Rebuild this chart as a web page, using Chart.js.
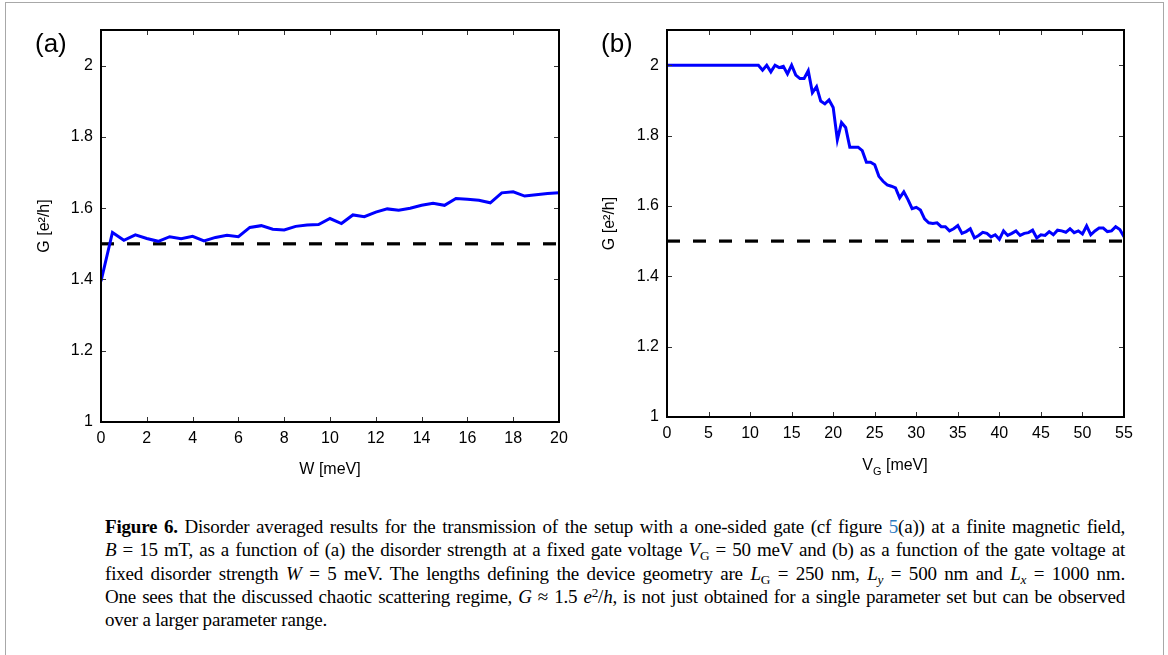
<!DOCTYPE html>
<html>
<head>
<meta charset="utf-8">
<script src="https://cdn.jsdelivr.net/npm/chart.js@4/dist/chart.umd.min.js"></script>
<style>
html,body{margin:0;padding:0;background:#fff;width:1168px;height:655px;overflow:hidden;}
#frame{position:absolute;left:5px;top:2px;width:1157px;height:720px;border:1px solid #a8a8a8;}
canvas{position:absolute;top:0;}
.lbl{position:absolute;font-family:"Liberation Sans",Arial,Helvetica,sans-serif;color:#000;white-space:nowrap;}
#cap{position:absolute;left:105px;top:515px;width:1020px;font-family:"Liberation Serif","Times New Roman",serif;font-size:19px;color:#000;}
#cap div{height:23.3px;line-height:23.3px;text-align:justify;text-align-last:justify;white-space:normal;letter-spacing:-0.2px;}
#cap div.last{text-align-last:left;}
#cap i{font-style:italic;}
#cap sub{font-size:70%;vertical-align:baseline;position:relative;top:0.3em;}
#cap sup{font-size:70%;vertical-align:baseline;position:relative;top:-0.45em;}
#cap .link{color:#2b7bbf;}
</style>
</head>
<body>
<div id="frame"></div>
<canvas id="ca" width="584" height="490" style="left:0px"></canvas>
<canvas id="cb" width="584" height="490" style="left:560px"></canvas>
<div class="lbl" style="left:35px;top:28px;font-size:26px;">(a)</div>
<div class="lbl" style="left:601px;top:28px;font-size:26px;">(b)</div>
<div class="lbl" style="left:795px;top:455px;width:200px;text-align:center;font-size:16px;line-height:20px;">V<span style="font-size:11px;position:relative;top:5px;">G</span> [meV]</div>
<div id="cap">
<div><b>Figure 6.</b> Disorder averaged results for the transmission of the setup with a one-sided gate (cf figure <span class="link">5</span>(a)) at a finite magnetic field,</div>
<div><i>B</i> = 15 mT, as a function of (a) the disorder strength at a fixed gate voltage <i>V</i><sub>G</sub> = 50 meV and (b) as a function of the gate voltage at</div>
<div>fixed disorder strength <i>W</i> = 5 meV. The lengths defining the device geometry are <i>L</i><sub>G</sub> = 250 nm, <i>L<sub>y</sub></i> = 500 nm and <i>L<sub>x</sub></i> = 1000 nm.</div>
<div>One sees that the discussed chaotic scattering regime, <i>G</i> ≈ 1.5 <i>e</i><sup>2</sup>/<i>h</i>, is not just obtained for a single parameter set but can be observed</div>
<div class="last">over a larger parameter range.</div>
</div>
<script>
// ---------- data ----------
const wA = [0,0.5,1,1.5,2,2.5,3,3.5,4,4.5,5,5.5,6,6.5,7,7.5,8,8.5,9,9.5,10,10.5,11,11.5,12,12.5,13,13.5,14,14.5,15,15.5,16,16.5,17,17.5,18,18.5,19,19.5,20];
const gA = [1.395,1.532,1.510,1.525,1.515,1.507,1.520,1.514,1.521,1.508,1.518,1.524,1.520,1.546,1.551,1.541,1.539,1.549,1.553,1.554,1.571,1.557,1.581,1.576,1.589,1.598,1.594,1.600,1.608,1.614,1.608,1.627,1.625,1.622,1.615,1.643,1.646,1.634,1.638,1.641,1.643];
const refAx = [0,20];
const refAy = [1.5,1.5];

const vB = [0,0.5,1,1.5,2,2.5,3,3.5,4,4.5,5,5.5,6,6.5,7,7.5,8,8.5,9,9.5,10,10.5,11,11.5,12,12.5,13,13.5,14,14.5,15,15.5,16,16.5,17,17.5,18,18.5,19,19.5,20,20.5,21,21.5,22,22.5,23,23.5,24,24.5,25,25.5,26,26.5,27,27.5,28,28.5,29,29.5,30,30.5,31,31.5,32,32.5,33,33.5,34,34.5,35,35.5,36,36.5,37,37.5,38,38.5,39,39.5,40,40.5,41,41.5,42,42.5,43,43.5,44,44.5,45,45.5,46,46.5,47,47.5,48,48.5,49,49.5,50,50.5,51,51.5,52,52.5,53,53.5,54,54.5,55];
const gB = [2,2,2,2,2,2,2,2,2,2,2,2,2,2,2,2,2,2,2,2,2,2,2,
  1.986,2.000,1.981,2.000,1.993,1.997,1.975,2.000,1.972,1.962,1.962,1.984,1.922,1.939,1.898,1.890,1.901,1.880,
  1.788,1.837,1.823,1.767,1.767,1.767,1.757,1.724,1.724,1.717,1.684,1.670,1.660,1.656,1.651,1.623,1.640,1.618,
  1.592,1.596,1.588,1.563,1.552,1.550,1.552,1.541,1.541,1.529,1.535,1.544,1.522,1.527,1.535,1.509,1.516,1.525,
  1.522,1.512,1.518,1.505,1.529,1.516,1.522,1.529,1.516,1.522,1.524,1.531,1.509,1.518,1.516,1.527,1.518,1.531,
  1.529,1.525,1.535,1.524,1.529,1.520,1.543,1.518,1.529,1.537,1.537,1.527,1.529,1.541,1.533,1.512];
const refBx = [0,55];
const refBy = [1.5,1.5];

const xTicksA = [0,2,4,6,8,10,12,14,16,18,20];
const xTicksB = [0,5,10,15,20,25,30,35,40,45,50,55];
const yTicks = [1,1.2,1.4,1.6,1.8,2];

// ---------- chart helpers ----------
const FAM = '"Liberation Sans", Arial, Helvetica, sans-serif';
const pts = (xs, ys) => xs.map((x, i) => ({x: x, y: ys[i]}));

const boxTicks = {
  id: 'boxTicks',
  afterDatasetsDraw(chart) {
    const {ctx, chartArea: a, scales: {x, y}} = chart;
    const L = 5;
    ctx.save();
    ctx.strokeStyle = '#333';
    ctx.lineWidth = 1;
    ctx.beginPath();
    x.ticks.forEach(t => {
      const px = Math.round(x.getPixelForValue(t.value)) + 0.5;
      ctx.moveTo(px, a.bottom); ctx.lineTo(px, a.bottom - L);
      ctx.moveTo(px, a.top); ctx.lineTo(px, a.top + L);
    });
    y.ticks.forEach(t => {
      const py = Math.round(y.getPixelForValue(t.value)) + 0.5;
      ctx.moveTo(a.left, py); ctx.lineTo(a.left + L, py);
      ctx.moveTo(a.right, py); ctx.lineTo(a.right - L, py);
    });
    ctx.stroke();
    ctx.strokeStyle = '#000';
    ctx.lineWidth = 2;
    ctx.strokeRect(a.left, a.top, a.right - a.left, a.bottom - a.top);
    ctx.restore();
  }
};

function makeChart(id, xs, ys, rx, ry, xmin, xmax, xticks, xTitle, yAxisW, xAxisH, padRight, yTitlePad, xTitleShow) {
  return new Chart(document.getElementById(id), {
    type: 'line',
    data: {
      datasets: [
        {data: pts(xs, ys), borderColor: '#0000ff', borderWidth: 3, pointRadius: 0, tension: 0, fill: false, order: 1},
        {data: pts(rx, ry), borderColor: '#000', borderWidth: 3.2, borderDash: [13, 13], pointRadius: 0, fill: false, order: 2}
      ]
    },
    options: {
      responsive: false,
      animation: false,
      devicePixelRatio: 1,
      layout: {padding: {left: 0, top: 30, right: padRight, bottom: 0}},
      plugins: {legend: {display: false}, tooltip: {enabled: false}},
      scales: {
        x: {
          type: 'linear', min: xmin, max: xmax,
          afterBuildTicks: s => { s.ticks = xticks.map(v => ({value: v})); },
          afterFit: s => { s.height = xAxisH; },
          grid: {display: false, drawTicks: false},
          border: {display: false},
          ticks: {padding: 7, autoSkip: false, maxRotation: 0, color: '#000', font: {family: FAM, size: 16}, callback: v => String(v)},
          title: {display: xTitleShow, text: xTitle, color: '#000', font: {family: FAM, size: 16}, padding: {top: 0, bottom: 10.4}}
        },
        y: {
          type: 'linear', min: 1, max: 2.1,
          afterBuildTicks: s => { s.ticks = yTicks.map(v => ({value: v})); },
          afterFit: s => { s.width = yAxisW; },
          grid: {display: false, drawTicks: false},
          border: {display: false},
          ticks: {padding: 8, color: '#000', font: {family: FAM, size: 16}, callback: v => String(+Number(v).toFixed(1))},
          title: {display: true, text: 'G [e²/h]', color: '#000', font: {family: FAM, size: 16}, padding: {top: yTitlePad, bottom: 0}}
        }
      }
    },
    plugins: [boxTicks]
  });
}

makeChart('ca', wA, gA, refAx, refAy, 0, 20, xTicksA, 'W [meV]', 101, 68, 25, 35.4, true);
makeChart('cb', vB, gB, refBx, refBy, 0, 55, xTicksB, 'V_G [meV]', 107, 73, 20, 40.4, false);
</script>
</body>
</html>
